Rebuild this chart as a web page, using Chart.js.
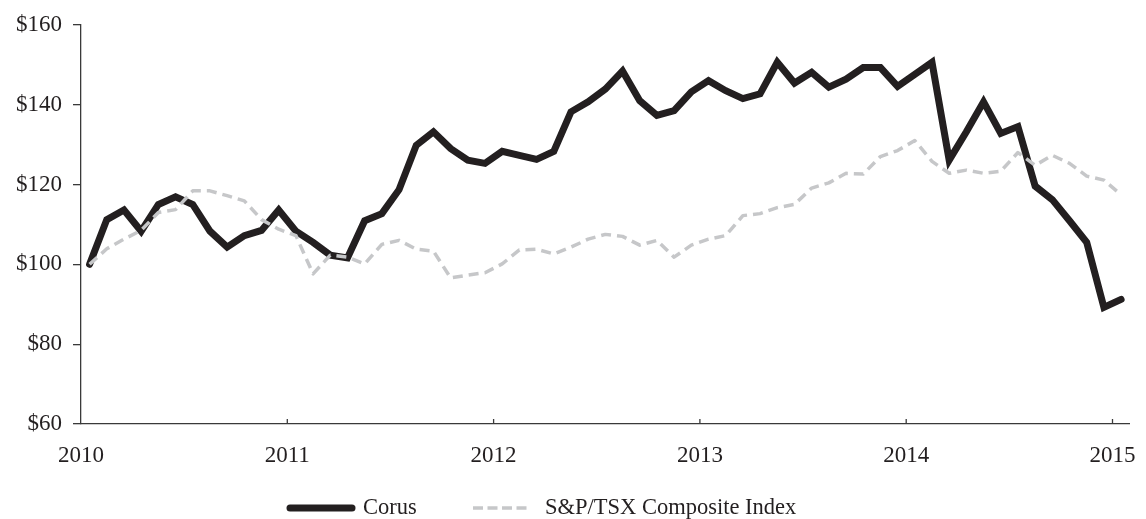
<!DOCTYPE html>
<html>
<head>
<meta charset="utf-8">
<script src="https://cdn.jsdelivr.net/npm/chart.js@4/dist/chart.umd.min.js"></script>
<style>
  html, body { margin: 0; padding: 0; background: #fff; }
  #wrap { width: 1146px; height: 519px; }
</style>
</head>
<body>
<div id="wrap"><canvas id="chart" width="1146" height="519"></canvas></div>
<script>
// Datos (índice mensual, base 100 = enero 2010)
const yearLabels = ['2010', '2011', '2012', '2013', '2014', '2015'];
const yTicks = [60, 80, 100, 120, 140, 160];

const corus = [
  100, 111.2, 113.6, 108.3, 115, 116.9, 115, 108.3, 104.3, 107.2, 108.5, 113.6,
  108.3, 105.5, 102.3, 101.6, 110.9, 112.7, 118.7, 129.8, 133.2, 129, 126.1, 125.3,
  128.3, 127.3, 126.3, 128.3, 138.2, 140.7, 143.9, 148.4, 141, 137.3, 138.5, 143.2,
  146, 143.5, 141.5, 142.7, 150.6, 145.4, 148.1, 144.4, 146.4, 149.3, 149.3, 144.6,
  147.6, 150.6, 126.1, 133.2, 140.7, 132.8, 134.5, 119.6, 116.2, 110.9, 105.5, 89.2,
  91.2
];

const tsx = [
  100, 103.9, 106.3, 108.5, 113, 113.7, 118.4, 118.4, 117.2, 115.9, 111.2, 108.8,
  107.2, 97.6, 102.3, 101.8, 100.1, 105, 106, 103.8, 103.3, 96.6, 97.3, 97.9,
  100.1, 103.6, 103.8, 102.6, 104.3, 106.3, 107.5, 107, 104.8, 106, 101.8, 104.8,
  106.3, 107.2, 112.2, 112.7, 114.2, 115, 119.1, 120.4, 122.8, 122.6, 127, 128.5,
  131, 125.8, 122.8, 123.6, 122.8, 123.3, 128, 124.8, 127.3, 125.3, 122.1, 121.1,
  117.4
];

const seriesNames = ['Corus', 'S&P/TSX Composite Index'];

const INK = '#231f20';
const GREY = '#c6c7c9';
const FONT = "'Liberation Serif', 'Times New Roman', serif";

// Ticks del eje X hacia adentro + leyenda dibujada a mano
const extrasPlugin = {
  id: 'extras',
  afterDraw(chart) {
    const ctx = chart.ctx;
    const x = chart.scales.x;
    const bottom = chart.chartArea.bottom;
    ctx.save();
    ctx.strokeStyle = '#3a3a3a';
    ctx.lineWidth = 1.3;
    x.ticks.forEach(t => {
      const px = x.getPixelForValue(t.value);
      if (px < x.left + 2) return;
      ctx.beginPath();
      ctx.moveTo(px, bottom);
      ctx.lineTo(px, bottom - 5);
      ctx.stroke();
    });

    // leyenda
    const ly = 508;
    ctx.lineCap = 'round';
    ctx.strokeStyle = INK;
    ctx.lineWidth = 7;
    ctx.beginPath();
    ctx.moveTo(290, ly);
    ctx.lineTo(352, ly);
    ctx.stroke();

    ctx.lineCap = 'butt';
    ctx.strokeStyle = GREY;
    ctx.lineWidth = 3.5;
    ctx.setLineDash([10, 4.5]);
    ctx.beginPath();
    ctx.moveTo(473, ly);
    ctx.lineTo(527, ly);
    ctx.stroke();
    ctx.setLineDash([]);

    ctx.fillStyle = INK;
    ctx.font = '22.5px ' + FONT;
    ctx.textBaseline = 'middle';
    ctx.textAlign = 'left';
    ctx.fillText(seriesNames[0], 363, ly);
    ctx.fillText(seriesNames[1], 545, ly);
    ctx.restore();
  }
};

new Chart(document.getElementById('chart'), {
  type: 'line',
  data: {
    datasets: [
      {
        label: seriesNames[0],
        data: corus.map((v, i) => ({ x: i, y: v })),
        borderColor: INK,
        borderWidth: 7,
        borderJoinStyle: 'miter',
        borderCapStyle: 'round',
        pointRadius: 0,
        tension: 0,
        order: 2
      },
      {
        label: seriesNames[1],
        data: tsx.map((v, i) => ({ x: i, y: v })),
        borderColor: GREY,
        borderWidth: 3.5,
        borderDash: [10, 6],
        borderJoinStyle: 'round',
        pointRadius: 0,
        tension: 0,
        order: 1
      }
    ]
  },
  options: {
    responsive: false,
    animation: false,
    layout: { padding: { top: 18, right: 17, bottom: 50, left: 0 } },
    plugins: {
      legend: { display: false },
      tooltip: { enabled: false }
    },
    scales: {
      x: {
        type: 'linear',
        min: -0.5,
        max: 60.46,
        afterBuildTicks: scale => {
          scale.ticks = yearLabels.map((y, k) => ({ value: -0.5 + 12 * k }));
        },
        afterFit: scale => { scale.height = 45; },
        ticks: {
          autoSkip: false,
          maxRotation: 0,
          padding: 10,
          color: INK,
          font: { family: FONT, size: 23 },
          callback: (v, idx) => yearLabels[idx]
        },
        grid: { display: false },
        border: { display: true, color: '#3a3a3a', width: 1.3 }
      },
      y: {
        min: 60,
        max: 160,
        afterBuildTicks: scale => {
          scale.ticks = yTicks.map(v => ({ value: v }));
        },
        afterFit: scale => { scale.width = 81; },
        ticks: {
          padding: 11,
          color: INK,
          font: { family: FONT, size: 23 },
          callback: v => '$' + v
        },
        grid: {
          drawOnChartArea: false,
          drawTicks: true,
          tickLength: 8,
          color: '#3a3a3a',
          lineWidth: 1.3
        },
        border: { display: true, color: '#3a3a3a', width: 1.3 }
      }
    }
  },
  plugins: [extrasPlugin]
});
</script>
</body>
</html>
